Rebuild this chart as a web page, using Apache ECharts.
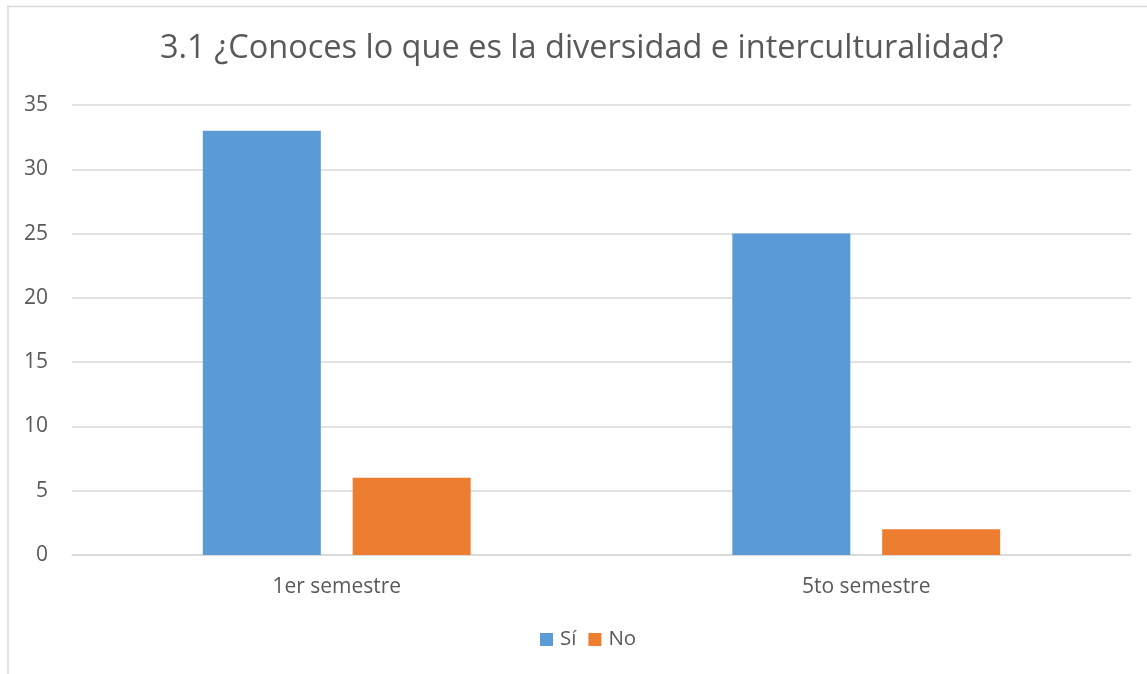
<!DOCTYPE html>
<html>
<head>
<meta charset="utf-8">
<script src="https://cdn.jsdelivr.net/npm/echarts@6/dist/echarts.min.js"></script>
<style>
html,body{margin:0;padding:0;background:#fff;}
#chart{width:1147px;height:674px;}
</style>
</head>
<body>
<div id="chart"></div>
<script>
const titleText = "3.1 ¿Conoces lo que es la diversidad e interculturalidad?";
const categories = ["1er semestre", "5to semestre"];
const seriesNames = ["Sí", "No"];
const siValues = [33, 25];
const noValues = [6, 2];
const yTicks = { min: 0, max: 35, interval: 5 };

const FONT = "Open Sans";
const TXT = "#595959";
const chart = echarts.init(document.getElementById('chart'), null, { renderer: 'canvas' });
chart.setOption({
  animation: false,
  backgroundColor: '#fff',
  textStyle: { fontFamily: FONT },
  graphic: [{
    type: 'polyline',
    silent: true,
    shape: { points: [[8, 700], [8, 6.5], [1200, 6.5]] },
    style: { stroke: '#d9d9d9', lineWidth: 1.5, fill: null }
  }],
  title: {
    text: titleText,
    left: 160,
    top: 32,
    padding: 0,
    textStyle: { fontFamily: FONT, fontSize: 32.5, fontWeight: 'normal', color: TXT }
  },
  legend: {
    data: seriesNames,
    bottom: 24,
    left: 540,
    padding: 0,
    itemWidth: 13,
    itemHeight: 13,
    itemGap: 12,
    icon: 'rect',
    textStyle: { fontFamily: FONT, fontSize: 20.5, color: TXT, padding: [0, 0, 0, 2] }
  },
  grid: { left: 72, right: 16, top: 105, bottom: 119, containLabel: false },
  xAxis: {
    type: 'category',
    data: categories,
    axisLine: { lineStyle: { color: '#d9d9d9', width: 1.5 } },
    axisTick: { show: false },
    axisLabel: { fontFamily: FONT, fontSize: 21, color: TXT, margin: 22 }
  },
  yAxis: {
    type: 'value',
    min: yTicks.min,
    max: yTicks.max,
    interval: yTicks.interval,
    axisLine: { show: false },
    axisTick: { show: false },
    axisLabel: { fontFamily: FONT, fontSize: 21, color: TXT, margin: 24 },
    splitLine: { lineStyle: { color: '#d9d9d9', width: 1.5 } }
  },
  series: [
    { name: seriesNames[0], type: 'bar', data: siValues, barWidth: 118, barGap: '27%', itemStyle: { color: '#5B9BD5' } },
    { name: seriesNames[1], type: 'bar', data: noValues, barWidth: 118, barGap: '27%', itemStyle: { color: '#ED7D31' } }
  ]
});
</script>
</body>
</html>
